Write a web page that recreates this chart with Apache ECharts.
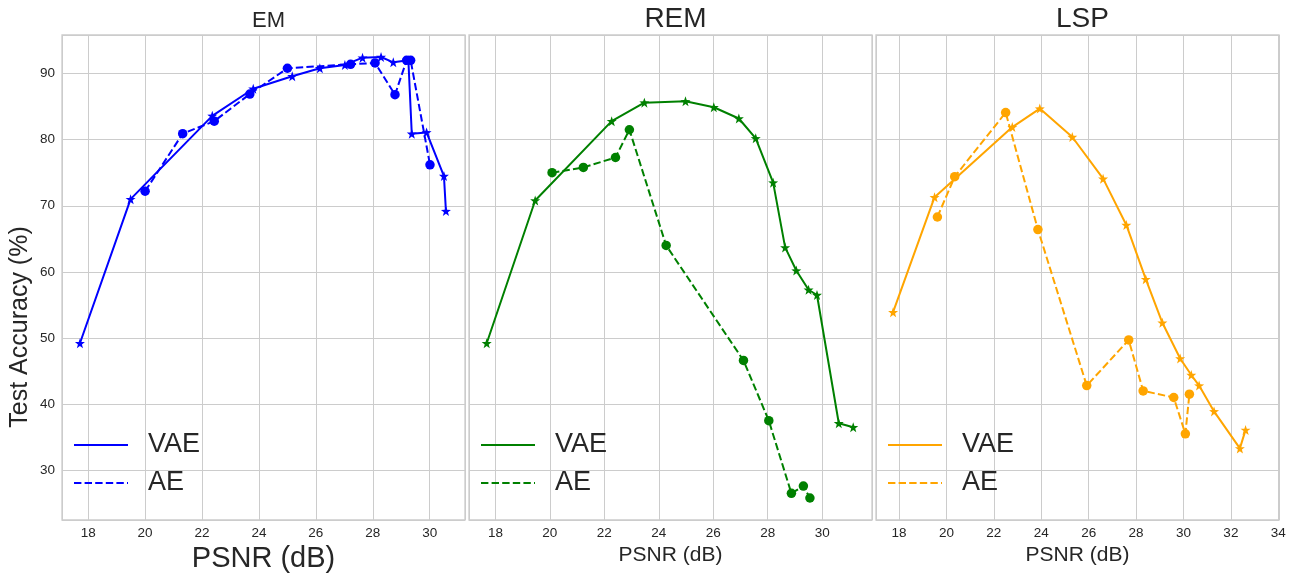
<!DOCTYPE html>
<html>
<head>
<meta charset="utf-8">
<script src="https://cdn.jsdelivr.net/npm/echarts@6/dist/echarts.min.js"></script>
<style>
html,body{margin:0;padding:0;background:#fff;}
#c{width:1294px;height:573px;}
</style>
</head>
<body>
<div id="c"></div>
<script>
// ---------- data ----------
const panelTitles = ['EM', 'REM', 'LSP'];
const seriesNames = ['VAE', 'AE'];
const yTicks = [30, 40, 50, 60, 70, 80, 90];

const emVaeX = [17.71, 19.49, 22.36, 23.80, 25.17, 26.14, 27.02, 27.64, 28.29, 28.72, 29.25, 29.37, 29.89, 30.50, 30.57];
const emVaeY = [49.2, 71.0, 83.6, 87.7, 89.6, 90.8, 91.3, 92.4, 92.5, 91.7, 92.0, 80.9, 81.1, 74.5, 69.2];
const emAeX = [20.00, 21.32, 22.43, 23.68, 25.00, 27.22, 28.08, 28.78, 29.19, 29.33, 30.01];
const emAeY = [72.2, 80.9, 82.8, 86.9, 90.8, 91.4, 91.6, 86.8, 92.0, 92.0, 76.2];

const remVaeX = [17.68, 19.46, 22.27, 23.47, 24.98, 26.02, 26.94, 27.56, 28.20, 28.64, 29.05, 29.50, 29.81, 30.61, 31.14];
const remVaeY = [49.2, 70.8, 82.8, 85.6, 85.8, 84.9, 83.2, 80.2, 73.5, 63.7, 60.2, 57.3, 56.5, 37.1, 36.5];
const remAeX = [20.08, 21.23, 22.41, 22.92, 24.27, 27.11, 28.04, 28.87, 29.31, 29.55];
const remAeY = [75.0, 75.8, 77.3, 81.5, 64.0, 46.6, 37.5, 26.5, 27.6, 25.8];

const lspVaeX = [17.75, 19.50, 22.78, 23.94, 25.31, 26.61, 27.59, 28.41, 29.11, 29.86, 30.33, 30.66, 31.29, 32.38, 32.62];
const lspVaeY = [53.9, 71.3, 81.9, 84.7, 80.4, 74.1, 67.1, 58.9, 52.3, 46.9, 44.4, 42.8, 38.9, 33.3, 36.1];
const lspAeX = [19.62, 20.35, 22.50, 23.86, 25.92, 27.69, 28.30, 29.59, 30.08, 30.25];
const lspAeY = [68.3, 74.4, 84.1, 66.4, 42.8, 49.7, 42.0, 41.0, 35.5, 41.5];

// ---------- layout / style ----------
const FONT = '"Liberation Sans", Arial, sans-serif';
const TXT = '#262626';
const GRIDC = '#cccccc';
const colors = ['#0000ff', '#008000', '#ffa500'];
const grids = [
  {left: 62, width: 403},
  {left: 469, width: 403},
  {left: 876, width: 403}
];
const xRanges = [[17.08, 31.24], [17.03, 31.83], [17.03, 34.03]];
const yRange = [22.47, 95.83];
const starPath = 'path://M0,-10 L2.35,-3.24 L9.51,-3.09 L3.8,1.24 L5.88,8.09 L0,4 L-5.88,8.09 L-3.8,1.24 L-9.51,-3.09 L-2.35,-3.24 Z';

const panelData = [
  [[emVaeX, emVaeY], [emAeX, emAeY]],
  [[remVaeX, remVaeY], [remAeX, remAeY]],
  [[lspVaeX, lspVaeY], [lspAeX, lspAeY]]
];

const zip = (xs, ys) => xs.map((x, i) => [x, ys[i]]);

const option = {
  backgroundColor: '#ffffff',
  animation: false,
  title: panelTitles.map((t, i) => ({
    text: t,
    left: grids[i].left + grids[i].width / 2,
    top: i === 0 ? 5 : 0,
    textAlign: 'center',
    textStyle: {fontFamily: FONT, fontWeight: 'normal', color: TXT, fontSize: i === 0 ? 22 : 28}
  })),
  grid: grids.map(g => ({
    left: g.left, width: g.width, top: 35, bottom: 53,
    show: true, borderColor: GRIDC, borderWidth: 1.3, backgroundColor: 'transparent',
    containLabel: false, outerBoundsMode: 'none'
  })),
  xAxis: grids.map((g, i) => ({
    type: 'value', gridIndex: i,
    min: xRanges[i][0], max: xRanges[i][1],
    splitNumber: 8, minInterval: 2, maxInterval: 2,
    name: 'PSNR (dB)', nameLocation: 'middle',
    nameGap: i === 0 ? 19 : 21,
    nameTextStyle: {fontFamily: FONT, color: TXT, fontSize: i === 0 ? 29 : 21},
    axisLine: {show: false}, axisTick: {show: false},
    axisLabel: {fontFamily: FONT, color: TXT, fontSize: 13.5, margin: 6, showMinLabel: false, showMaxLabel: false},
    splitLine: {show: true, lineStyle: {color: GRIDC, width: 1}}
  })),
  yAxis: grids.map((g, i) => ({
    type: 'value', gridIndex: i,
    min: yRange[0], max: yRange[1],
    splitNumber: 7, minInterval: 10, maxInterval: 10,
    axisLine: {show: false}, axisTick: {show: false},
    axisLabel: {show: i === 0, fontFamily: FONT, color: TXT, fontSize: 13.5, margin: 7, showMinLabel: false, showMaxLabel: false},
    splitLine: {show: true, lineStyle: {color: GRIDC, width: 1}}
  })),
  series: [],
  graphic: [{
    type: 'text', silent: true,
    x: 20, y: 327, rotation: Math.PI / 2,
    style: {text: 'Test Accuracy (%)', font: '25px ' + FONT, fill: TXT, align: 'center', verticalAlign: 'middle'}
  }]
};

panelData.forEach((pd, i) => {
  pd.forEach((xy, k) => {
    option.series.push({
      type: 'line', name: seriesNames[k],
      xAxisIndex: i, yAxisIndex: i,
      data: zip(xy[0], xy[1]),
      symbol: k === 0 ? starPath : 'circle',
      symbolSize: k === 0 ? 10 : 9.5,
      showAllSymbol: true,
      itemStyle: {color: colors[i]},
      lineStyle: {color: colors[i], width: 2, type: k === 0 ? 'solid' : [7.4, 3.2]},
      z: 2 + k
    });
  });
  const lx = grids[i].left + 12;
  [445, 483].forEach((yy, k) => {
    option.graphic.push({
      type: 'line', silent: true,
      shape: {x1: lx, y1: yy, x2: lx + 54, y2: yy},
      style: {stroke: colors[i], lineWidth: 2, lineDash: k === 0 ? null : [7.4, 3.2]},
      z: 10
    });
    option.graphic.push({
      type: 'text', silent: true,
      x: lx + 74, y: yy,
      style: {text: seriesNames[k], font: '27px ' + FONT, fill: TXT, align: 'left', verticalAlign: 'middle'},
      z: 10
    });
  });
});

const chart = echarts.init(document.getElementById('c'), null, {renderer: 'canvas'});
chart.setOption(option);
</script>
</body>
</html>
